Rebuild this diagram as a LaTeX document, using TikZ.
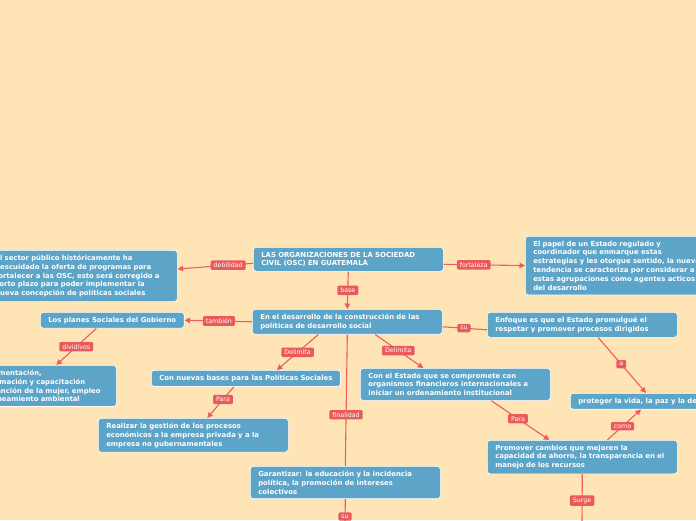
\documentclass[tikz,border=0pt]{standalone}
\usepackage{fontspec}
\setmainfont{DejaVu Sans}
\usepackage{tikz}
\usetikzlibrary{arrows.meta}
\definecolor{paper}{HTML}{FFE5B6}
\definecolor{boxblue}{HTML}{5CA4C8}
\definecolor{tagred}{HTML}{EA5A5A}
\definecolor{linkred}{HTML}{EE5C5C}
\tikzstyle{topic} = [rectangle, anchor=north west, draw=white, line width=0.6pt, fill=boxblue, rounded corners=3pt, text=white, align=left, inner xsep=8pt, inner ysep=4.6pt, font=\fontsize{6.9}{8.8}\selectfont\bfseries]
\tikzstyle{wide} = [topic, text width=174pt]
\tikzstyle{tag} = [rectangle, fill=tagred, text=white, rounded corners=1.2pt, inner xsep=3pt, inner ysep=2.3pt, font=\fontsize{6.3}{6.5}\selectfont]
\tikzstyle{arrow} = [draw=linkred, line width=1.1pt, -{Triangle[length=5.5pt,width=5.5pt]}]
\tikzstyle{link} = [draw=linkred, line width=1.1pt]

\begin{document}
\begin{tikzpicture}[x=1pt, y=-1pt]
\fill[paper] (0,0) rectangle (696,520);
\useasboundingbox (0,0) rectangle (696,520);
\clip (0,0) rectangle (696,520);

% Nodes
\node (main) [wide] at (253,247) {LAS ORGANIZACIONES DE LA SOCIEDAD\\CIVIL (OSC) EN GUATEMALA};
\node (weak) [wide] at (-13,250) {El sector público históricamente ha\\descuidado la oferta de programas para\\fortalecer a las OSC, esto será corregido a\\corto plazo para poder implementar la\\nueva concepción de políticas sociales};
\node (role) [wide] at (525,236) {El papel de un Estado regulado y\\coordinador que enmarque estas\\estrategias y les otorgue sentido, la nueva\\tendencia se caracteriza por considerar a\\estas agrupaciones como agentes acticos\\del desarrollo};
\node (dev) [wide] at (252,309) {En el desarrollo de la construcción de las\\políticas de desarrollo social};
\node (plans) [topic] at (40,312) {Los planes Sociales del Gobierno};
\node (areas) [topic, text width=120pt] at (-20,365) {Alimentación,\\formación y capacitación\\atención de la mujer, empleo\\saneamiento ambiental};
\node (focus) [wide] at (487,312) {Enfoque es que el Estado promulgué el\\respetar y promover procesos dirigidos};
\node (bases) [topic] at (151,370) {Con nuevas bases para las Políticas Sociales};
\node (state) [wide] at (360,368) {Con el Estado que se compromete con\\organismos financieros internacionales a\\iniciar un ordenamiento institucional};
\node (manage) [wide] at (98,418) {Realizar la gestión de los procesos\\económicos a la empresa privada y a la\\empresa no gubernamentales};
\node (ensure) [wide] at (250,466) {Garantizar: la educación y la incidencia\\política, la promoción de intereses\\colectivos};
\node (protect) [topic] at (570,393) {proteger la vida, la paz y la democracia};
\node (promote) [wide] at (487,440) {Promover cambios que mejoren la\\capacidad de ahorro, la transparencia en el\\manejo de los recursos};
\coordinate (promote_end) at (582,524);
\coordinate (ensure_end) at (345,524);

% Arrows
\draw [arrow] ([yshift=-4pt]main.west) -- node[tag, pos=0.33] {debilidad} ([yshift=7pt]weak.east);
\draw [arrow] ([yshift=-5pt]main.east) -- node[tag, pos=0.37] {fortaleza} (role.west);
\draw [arrow] (main.south) -- node[tag, pos=0.5] {base} (dev.north);
\draw [arrow] (dev.west) -- node[tag, pos=0.49] {también} (plans.east);
\draw [link] ([yshift=-5pt]dev.east) -- node[tag, pos=0.48] {su} ([yshift=-5pt]focus.west);
\draw [arrow] ([xshift=-16pt]plans.south) -- node[tag, pos=0.5] {dividivos} ([xshift=8pt]areas.north);
\draw [arrow] ([xshift=-29pt]dev.south) -- node[tag, pos=0.5] {Delimita} ([xshift=31pt]bases.north);
\draw [arrow] ([xshift=28pt]dev.south) -- node[tag, pos=0.48] {Delimita} ([xshift=-32pt]state.north);
\draw [link] (dev.south) -- node[tag, pos=0.61] {finalidad} (ensure.north);
\draw [arrow] ([xshift=-12pt]bases.south) -- node[tag, pos=0.41] {Para} ([xshift=14pt]manage.north);
\draw [arrow] ([xshift=36pt]state.south) -- node[tag, pos=0.46] {Para} ([xshift=-33pt]promote.north);
\draw [arrow] ([xshift=16pt]focus.south) -- node[tag, pos=0.48] {a} ([xshift=76pt]protect.north west);
\draw [arrow] ([xshift=25pt]promote.north) -- node[tag, pos=0.45] {como} ([xshift=71pt]protect.south west);
\draw [link] (promote.south) -- node[tag, pos=0.53] {Surge} (promote_end);
\draw [link] (ensure.south) -- node[tag, pos=0.7] {su} (ensure_end);

\end{tikzpicture}
\end{document}
